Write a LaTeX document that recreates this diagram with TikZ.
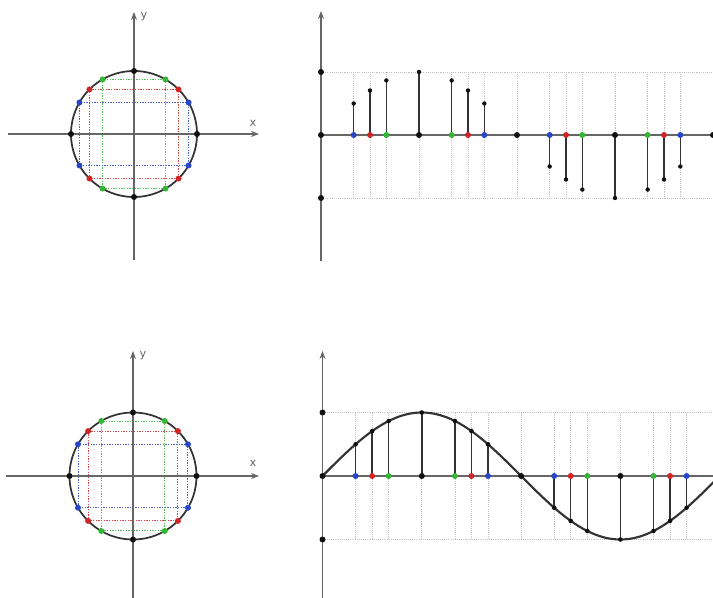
\documentclass[tikz,border=0pt]{standalone}
\usepackage{fontspec}
\setsansfont{DejaVu Sans}
\usetikzlibrary{arrows.meta}
\definecolor{axisgray}{HTML}{666666}
\definecolor{curvegray}{HTML}{333333}
\definecolor{gridgray}{HTML}{C4C4C4}
\definecolor{pblue}{HTML}{2747C8}
\definecolor{pred}{HTML}{D02525}
\definecolor{pgreen}{HTML}{35B535}
\definecolor{pblack}{HTML}{111111}
\tikzset{
  axisline/.style={draw=axisgray, line width=0.9pt, -{Stealth[length=6pt,width=4.5pt]}},
  plainaxis/.style={draw=axisgray, line width=0.9pt},
  circleline/.style={draw=curvegray, line width=1.3pt},
  gridline/.style={draw=gridgray, line width=0.6pt, dash pattern=on 0.8pt off 0.8pt},
  rectline/.style={line width=0.9pt, dash pattern=on 1pt off 1pt},
  stemline/.style={draw=curvegray, line width=1.1pt},
  axislabel/.style={text=axisgray, font=\sffamily\fontsize{8.5}{8.5}\selectfont, inner sep=0pt}
}
\begin{document}
\begin{tikzpicture}[x=0.75pt,y=-0.75pt]
\useasboundingbox (0,0) rectangle (713,598);
\clip (0,0) rectangle (713,598);

% ================= TOP =================
\coordinate (c1) at (134,134);
\draw[rectline, draw=pgreen!85!white] (134-31.5,134-54.6) rectangle (134+31.5,134+54.6);
\draw[rectline, draw=pred!85!white] (134-44.5,134-44.5) rectangle (134+44.5,134+44.5);
\draw[rectline, draw=pblue!85!white] (134-54.6,134-31.5) rectangle (134+54.6,134+31.5);
\coordinate (c1l) at (8,134);
\coordinate (c1r) at (259,134);
\coordinate (c1b) at (134,260);
\coordinate (c1t) at (134,12);
\draw[axisline] (c1l) -- (c1r);
\draw[axisline] (c1b) -- (c1t);
\node[axislabel] (x1) at (253,123) {x};
\node[axislabel] (y1) at (144,17) {y};
\draw[circleline] (c1) circle[radius=63];
\foreach \a/\c in {0/pblack,30/pblue,45/pred,60/pgreen,90/pblack,120/pgreen,135/pred,150/pblue,180/pblack,210/pblue,225/pred,240/pgreen,270/pblack,300/pgreen,315/pred,330/pblue}{
  \fill[\c] ({134+63*cos(\a)},{134-63*sin(\a)}) circle[radius=3];
}

% stem plot
\coordinate (o2) at (321,135);
\foreach \a in {30,45,60,90,120,135,150,180,210,225,240,270,300,315,330,360}{
  \draw[gridline] ({321+\a*1.08889},72) -- ({321+\a*1.08889},198);
}
\draw[gridline] (321,72) -- (713,72);
\draw[gridline] (321,198) -- (713,198);
\coordinate (a2b) at (321,261);
\coordinate (a2t) at (321,11);
\coordinate (a2r) at (716,135);
\draw[axisline] (a2b) -- (a2t);
\draw[plainaxis] (o2) -- (a2r);
\foreach \a/\c in {30/pblue,45/pred,60/pgreen,90/pblack,120/pgreen,135/pred,150/pblue,210/pblue,225/pred,240/pgreen,270/pblack,300/pgreen,315/pred,330/pblue}{
  \draw[stemline] ({321+\a*1.08889},135) -- ({321+\a*1.08889},{135-63*sin(\a)});
  \fill[pblack] ({321+\a*1.08889},{135-63*sin(\a)}) circle[radius=2.2];
  \fill[\c] ({321+\a*1.08889},135) circle[radius=3];
}
\fill[pblack] (o2) circle[radius=3];
\fill[pblack] (321,72) circle[radius=3];
\fill[pblack] (321,198) circle[radius=3];
\fill[pblack] ({321+180*1.08889},135) circle[radius=3];
\fill[pblack] ({321+360*1.08889},135) circle[radius=3];

% ================= BOTTOM =================
\coordinate (c3) at (133,476);
\draw[rectline, draw=pgreen!85!white] (133-31.5,476-54.6) rectangle (133+31.5,476+54.6);
\draw[rectline, draw=pred!85!white] (133-44.5,476-44.5) rectangle (133+44.5,476+44.5);
\draw[rectline, draw=pblue!85!white] (133-54.6,476-31.5) rectangle (133+54.6,476+31.5);
\coordinate (c3l) at (6,476);
\coordinate (c3r) at (259,476);
\coordinate (c3b) at (133,598);
\coordinate (c3t) at (133,351);
\draw[axisline] (c3l) -- (c3r);
\draw[axisline] (c3b) -- (c3t);
\node[axislabel] (x3) at (253,463) {x};
\node[axislabel] (y3) at (143,356) {y};
\draw[circleline] (c3) circle[radius=63.5];
\foreach \a/\c in {0/pblack,30/pblue,45/pred,60/pgreen,90/pblack,120/pgreen,135/pred,150/pblue,180/pblack,210/pblue,225/pred,240/pgreen,270/pblack,300/pgreen,315/pred,330/pblue}{
  \fill[\c] ({133+63.5*cos(\a)},{476-63.5*sin(\a)}) circle[radius=3];
}

% sine plot
\coordinate (o4) at (322.5,476);
\foreach \a in {30,45,60,90,120,135,150,180,210,225,240,270,300,315,330}{
  \draw[gridline] ({322.5+\a*1.10333},412.5) -- ({322.5+\a*1.10333},539.5);
}
\draw[gridline] (322.5,412.5) -- (713,412.5);
\draw[gridline] (322.5,539.5) -- (713,539.5);
\coordinate (a4b) at (322.5,598);
\coordinate (a4t) at (322.5,351);
\coordinate (a4r) at (716,476);
\draw[axisline] (a4b) -- (a4t);
\draw[plainaxis] (o4) -- (a4r);
\draw[circleline, line width=1.6pt, line join=round] plot[domain=0:360, samples=120, smooth] ({322.5+\x*1.10333},{476-63.5*sin(\x)});
\foreach \a/\c in {30/pblue,45/pred,60/pgreen,90/pblack,120/pgreen,135/pred,150/pblue,210/pblue,225/pred,240/pgreen,270/pblack,300/pgreen,315/pred,330/pblue}{
  \draw[stemline] ({322.5+\a*1.10333},476) -- ({322.5+\a*1.10333},{476-63.5*sin(\a)});
  \fill[pblack] ({322.5+\a*1.10333},{476-63.5*sin(\a)}) circle[radius=2.3];
  \fill[\c] ({322.5+\a*1.10333},476) circle[radius=3];
}
\fill[pblack] (o4) circle[radius=3];
\fill[pblack] (322.5,412.5) circle[radius=3];
\fill[pblack] (322.5,539.5) circle[radius=3];
\fill[pblack] ({322.5+180*1.10333},476) circle[radius=3];
\end{tikzpicture}
\end{document}
